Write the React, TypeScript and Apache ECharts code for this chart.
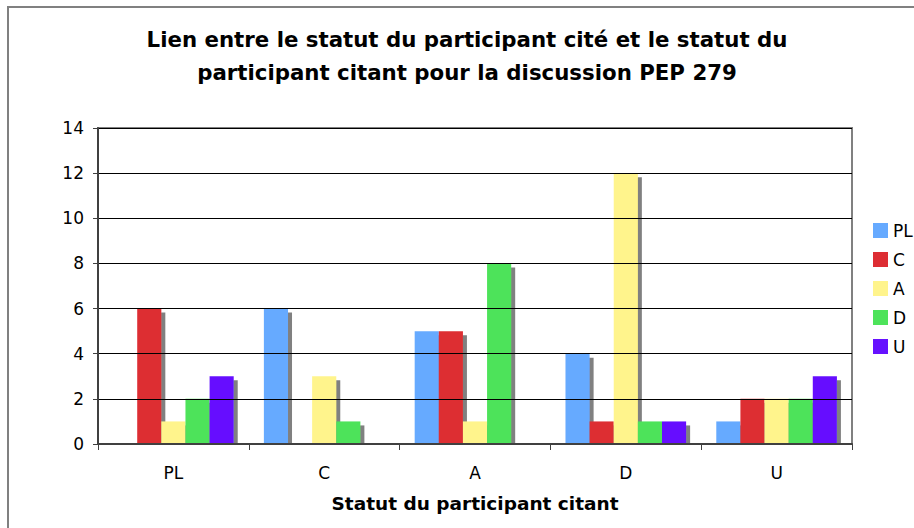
import React, { useEffect, useRef } from "react";
import * as echarts from "echarts";

const categories = ["PL", "C", "A", "D", "U"];
const seriesNames = ["PL", "C", "A", "D", "U"];
const valuesPL = [0, 6, 5, 4, 1];
const valuesC = [6, 0, 5, 1, 2];
const valuesA = [1, 3, 1, 12, 2];
const valuesD = [2, 1, 8, 1, 2];
const valuesU = [3, 0, 0, 1, 3];
const seriesColors = ["#66AAFF", "#DD2D33", "#FFF48C", "#4DE35A", "#6611FF"];
const titleText = "Lien entre le statut du participant cité et le statut du\nparticipant citant pour la discussion PEP 279";
const xAxisName = "Statut du participant citant";

const FONT = "'DejaVu Sans', Verdana, sans-serif";

export default function App() {
  const ref = useRef<HTMLDivElement>(null);
  useEffect(() => {
    if (!ref.current) return;
    const chart = echarts.init(ref.current, undefined, { renderer: "svg" });
    const data = [valuesPL, valuesC, valuesA, valuesD, valuesU];
    const gridLeft = 98, gridTop = 128, gridRight = 62, gridBottom = 84;
    const W = 914, H = 528;
    const gw = W - gridLeft - gridRight;
    const gh = H - gridTop - gridBottom;
    chart.setOption({
      animation: false,
      backgroundColor: "#ffffff",
      textStyle: { fontFamily: FONT },
      grid: { left: gridLeft, top: gridTop, right: gridRight, bottom: gridBottom },
      legend: {
        orient: "vertical",
        left: 873,
        top: 222,
        padding: 0,
        itemWidth: 15,
        itemHeight: 15,
        itemGap: 12,
        icon: "rect",
        data: seriesNames,
        itemStyle: { shadowColor: "transparent", shadowOffsetX: 0, shadowOffsetY: 0, shadowBlur: 0 },
        textStyle: { fontSize: 17, color: "#000", fontFamily: FONT, padding: [0, 0, 0, 0] },
      },
      xAxis: {
        type: "category",
        data: categories,
        z: 6,
        name: xAxisName,
        nameLocation: "middle",
        nameGap: 50,
        nameTextStyle: { fontSize: 18.5, fontWeight: "bold", color: "#000", fontFamily: FONT },
        axisLine: { lineStyle: { color: "#404040", width: 2 } },
        axisTick: { show: true, length: 6, lineStyle: { color: "#404040", width: 1 } },
        axisLabel: { fontSize: 17, color: "#000", margin: 20, fontFamily: FONT },
        splitLine: { show: false },
      },
      yAxis: {
        type: "value",
        min: 0,
        max: 14,
        interval: 2,
        z: 6,
        axisLine: { show: true, lineStyle: { color: "#404040", width: 2 } },
        axisTick: { show: true, length: 5, lineStyle: { color: "#404040", width: 1 } },
        axisLabel: { fontSize: 17, color: "#000", margin: 14, fontFamily: FONT },
        splitLine: { show: true, lineStyle: { color: "#000", width: 1 } },
      },
      graphic: [
        {
          type: "rect",
          z: 100,
          silent: true,
          shape: { x: 8, y: 7, width: 2000, height: 2000 },
          style: { fill: "none", stroke: "#808080", lineWidth: 2 },
        },
        {
          type: "rect",
          z: 3,
          silent: true,
          shape: { x: gridLeft + 1, y: gridTop + gh + 1, width: gw + 10, height: 6 },
          style: { fill: "#ffffff" },
        },
        {
          type: "rect",
          z: 4,
          silent: true,
          shape: { x: gridLeft, y: gridTop, width: gw, height: gh },
          style: { fill: "none", stroke: "#808080", lineWidth: 2 },
        },
        {
          type: "text",
          z: 10,
          x: 467,
          y: 56,
          style: {
            text: titleText,
            textAlign: "center",
            textVerticalAlign: "middle",
            font: `bold 21.3px ${FONT}`,
            lineHeight: 33,
            fill: "#000",
          },
        },
      ],
      series: seriesNames.map((name, i) => ({
        name,
        type: "bar",
        data: data[i],
        barGap: "0%",
        barCategoryGap: "20%",
        z: 2,
        itemStyle: {
          color: seriesColors[i],
          shadowColor: "#808080",
          shadowOffsetX: 4,
          shadowOffsetY: 4,
          shadowBlur: 0,
        },
      })),
    });
    return () => chart.dispose();
  }, []);
  return (
    <div
      ref={ref}
      style={{ position: "absolute", left: 0, top: 0, width: 914, height: 528 }}
    />
  );
}
